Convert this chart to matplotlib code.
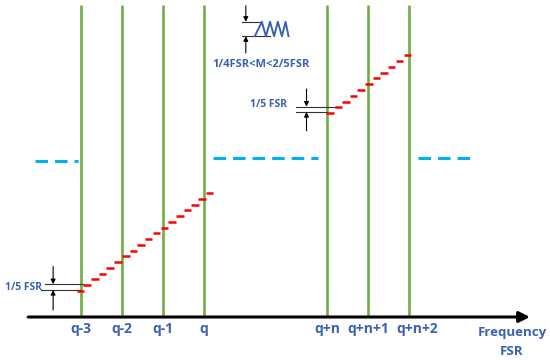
import numpy as np
import matplotlib
matplotlib.use("Agg")
import matplotlib.pyplot as plt

# x in units of FSR (q-3 at 0), y in the same units above the frequency axis
mode_x = [0, 1, 2, 3, 6, 7, 8]
mode_labels = ["q-3", "q-2", "q-1", "q", "q+n", "q+n+1", "q+n+2"]
label_x = [0, 1, 2, 3, 6, 7, 8.2]
mode_top = 7.6

# red staircase dashes (centre x, level)
left_x = [-0.02, 0.15, 0.34, 0.53, 0.71, 0.90, 1.10, 1.28, 1.46, 1.65, 1.84,
          2.03, 2.22, 2.41, 2.59, 2.78, 2.95, 3.13]
left_y = [0.64, 0.78, 0.92, 1.06, 1.20, 1.34, 1.48, 1.62, 1.76, 1.90, 2.04,
          2.18, 2.32, 2.46, 2.60, 2.74, 2.88, 3.02]
right_x = [6.07, 6.28, 6.46, 6.64, 6.83, 7.02, 7.20, 7.39, 7.58, 7.77, 7.97]
right_y = [4.98, 5.11, 5.25, 5.40, 5.54, 5.68, 5.82, 5.96, 6.10, 6.24, 6.38]
dash_w = 0.18

# blue dashed levels: (x start, x end, level)
blue_start = [-1.12, 3.22, 8.22]
blue_end = [-0.07, 5.78, 9.55]
blue_level = [3.80, 3.87, 3.87]

# zigzag icon
zig_x = [4.24, 4.41, 4.51, 4.61, 4.71, 4.80, 4.90, 4.99, 5.06]
zig_y = [6.85, 7.20, 6.85, 7.20, 6.85, 7.20, 6.85, 7.20, 6.85]

GREEN = "#70AD47"
RED = "#FF0000"
CYAN = "#00B0F0"
BLUE = "#3A62B0"
FONT = "Open Sans"

fig = plt.figure(figsize=(5.5, 3.6), dpi=100)
ax = fig.add_axes([0, 0, 1, 1])
ax.set_xlim(-1.976, 11.439)
ax.set_ylim(-1.049, 7.732)
ax.axis("off")

# mode lines
ax.vlines(mode_x, 0, mode_top, color=GREEN, lw=1.9, zorder=2)
for x, lab in zip(label_x, mode_labels):
    ax.text(x, -0.30, lab, color=BLUE, fontsize=10, fontweight="bold",
            family=FONT, ha="center", va="center")

# staircases
for xs, ys in [(left_x, left_y), (right_x, right_y)]:
    xs = np.array(xs)
    ax.hlines(ys, xs - dash_w / 2, xs + dash_w / 2, color=RED, lw=1.8, zorder=3)

# cyan dashed levels
for x0, x1, y in zip(blue_start, blue_end, blue_level):
    ax.plot([x0, x1], [y, y], color=CYAN, lw=2.2, dashes=(4.1, 2.3), zorder=2)

# frequency axis
ax.annotate("", xy=(10.95, 0), xytext=(-1.29, 0),
            arrowprops=dict(arrowstyle="-|>", lw=2.2, color="black",
                            mutation_scale=16, shrinkA=0, shrinkB=0))
ax.text(10.51, -0.39, "Frequency", color=BLUE, fontsize=9.5,
        fontweight="bold", family=FONT, ha="center", va="center")
ax.text(10.51, -0.83, "FSR", color=BLUE, fontsize=9.5,
        fontweight="bold", family=FONT, ha="center", va="center")


def bracket(x_arrow, y_lo, y_hi, x_lines, top_from, bot_from, ax=ax):
    # two reference lines with inward-pointing arrows
    ax.plot([x_lines[0], x_lines[1]], [y_hi, y_hi], color="#333333", lw=0.8)
    ax.plot([x_lines[2], x_lines[3]], [y_lo, y_lo], color="#333333", lw=0.8)
    arr = dict(arrowstyle="-|>", lw=0.8, color="black", mutation_scale=7,
               shrinkA=0, shrinkB=0)
    ax.annotate("", xy=(x_arrow, y_hi), xytext=(x_arrow, top_from), arrowprops=arr)
    ax.annotate("", xy=(x_arrow, y_lo), xytext=(x_arrow, bot_from), arrowprops=arr)


bracket(-0.68, 0.66, 0.80, [-0.88, 0.05, -0.98, 0.0], 1.23, 0.17)
ax.text(-0.95, 0.73, "1/5 FSR", color=BLUE, fontsize=7.5, family=FONT,
        fontweight="bold", ha="right", va="center")

bracket(5.50, 5.00, 5.13, [5.24, 6.2, 5.24, 6.0], 5.56, 4.54)
ax.text(5.02, 5.19, "1/5 FSR", color=BLUE, fontsize=7.5, family=FONT,
        fontweight="bold", ha="right", va="center")

bracket(4.02, 6.85, 7.20, [3.92, 4.41, 3.92, 4.61], 7.59, 6.44)
ax.plot(zig_x, zig_y, color=BLUE, lw=1.4)
ax.text(4.38, 6.15, "1/4FSR<M<2/5FSR", color=BLUE, fontsize=8, family=FONT,
        fontweight="bold", ha="center", va="center")

fig.savefig("out.png", dpi=100)
